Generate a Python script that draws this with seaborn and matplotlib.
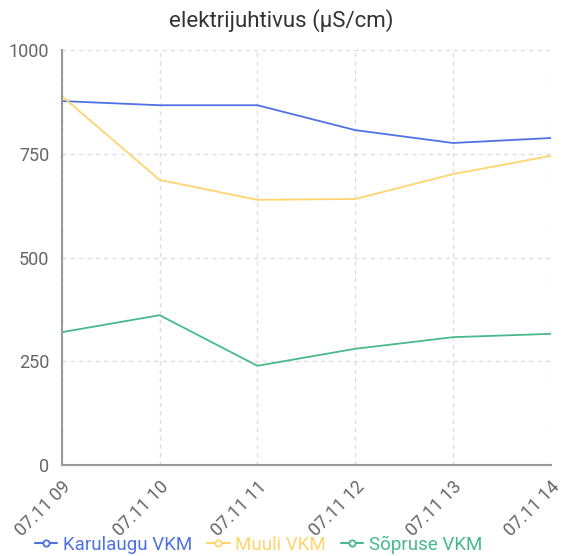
import numpy as np
import pandas as pd
import matplotlib
matplotlib.use("Agg")
import matplotlib.pyplot as plt
import seaborn as sns

# andmed
hours = ["07.11 09", "07.11 10", "07.11 11", "07.11 12", "07.11 13", "07.11 14"]
karulaugu = [877, 867, 867, 807, 776, 788]
muuli = [889, 687, 639, 641, 701, 745]
sopruse = [320, 361, 239, 280, 308, 316]

series = ["Karulaugu VKM", "Muuli VKM", "Sõpruse VKM"]
colors = ["#4f72e3", "#ffd56e", "#48b98c"]

df = pd.DataFrame({
    "x": list(range(len(hours))) * 3,
    "value": karulaugu + muuli + sopruse,
    "jaam": [s for s in series for _ in hours],
})

sns.set_style("white")
plt.rcParams["font.family"] = ["Roboto", "DejaVu Sans"]

fig = plt.figure(figsize=(5.62, 5.56), dpi=100)
ax = fig.add_axes([0.110, 0.1637, 0.870, 0.7463])

sns.lineplot(data=df, x="x", y="value", hue="jaam", palette=colors,
             linewidth=1.3, ax=ax, legend=False)

ax.set_xlim(0, len(hours) - 1)
ax.set_ylim(0, 1000)
ax.set_yticks([0, 250, 500, 750, 1000])
ax.set_xticks(range(len(hours)))
ax.set_xticklabels(hours, rotation=45, ha="right", rotation_mode="anchor")
ax.tick_params(axis="both", colors="#999999", labelcolor="#666666",
               labelsize=13, length=6, width=1.2, direction="out", pad=3)
ax.set_xlabel("")
ax.set_ylabel("")

ax.grid(True, color="#dddddd", linestyle=(0, (3, 3)), linewidth=1)
ax.set_axisbelow(True)
for side in ["top", "right"]:
    ax.spines[side].set_visible(False)
for side in ["left", "bottom"]:
    ax.spines[side].set_color("#999999")
    ax.spines[side].set_linewidth(1.5)

fig.text(0.5, 0.964, "elektrijuhtivus (µS/cm)", ha="center", va="center",
         fontsize=16, color="#333333")

handles = [plt.Line2D([], [], color=c, marker="o", markersize=4.5,
                      markerfacecolor="white", markeredgewidth=1.3, linewidth=1.5)
           for c in colors]
leg = fig.legend(handles, series, loc="center", bbox_to_anchor=(0.46, 0.02),
                 ncol=3, frameon=False, fontsize=13.5, handlelength=1.2,
                 handletextpad=0.3, columnspacing=0.8, borderpad=0)
for t, c in zip(leg.get_texts(), colors):
    t.set_color(c)

fig.savefig("out.png", dpi=100)
